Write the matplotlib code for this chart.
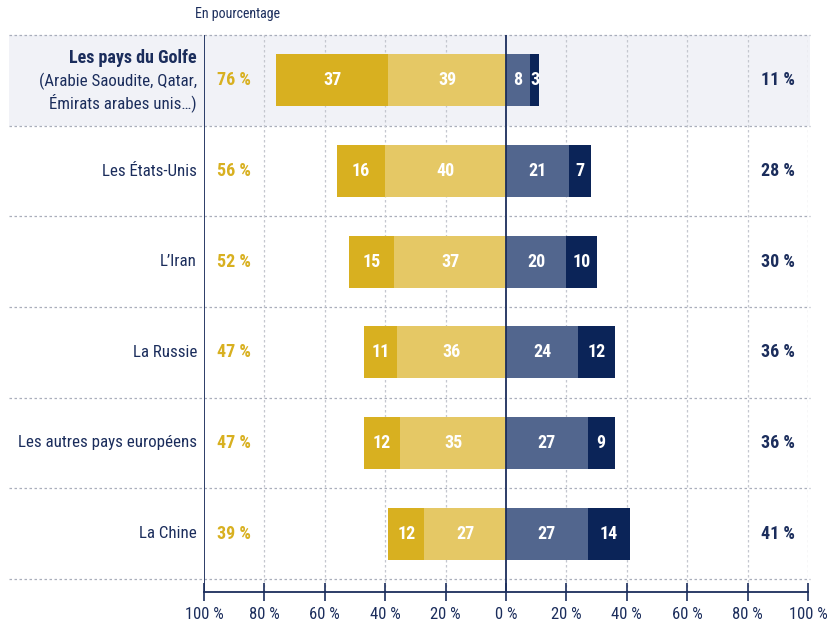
import matplotlib
matplotlib.use("Agg")
import matplotlib.pyplot as plt
from matplotlib.patches import Rectangle

plt.rcParams['font.family'] = ['Roboto Condensed', 'Open Sans Condensed', 'Liberation Sans Narrow',
                               'Roboto', 'DejaVu Sans']

# données (en pourcentage)
categories = ["Les pays du Golfe", "Les États-Unis", "L’Iran", "La Russie",
              "Les autres pays européens", "La Chine"]
tres_pos = [37, 16, 15, 11, 12, 12]      # jaune foncé
plutot_pos = [39, 40, 37, 36, 35, 27]    # jaune clair
plutot_neg = [8, 21, 20, 24, 27, 27]     # bleu moyen
tres_neg = [3, 7, 10, 12, 9, 14]         # bleu foncé
total_pos = [76, 56, 52, 47, 47, 39]
total_neg = [11, 28, 30, 36, 36, 41]
ticks = [-100, -80, -60, -40, -20, 0, 20, 40, 60, 80, 100]

c_dark_y = "#d8b020"
c_light_y = "#e5c865"
c_mid_b = "#52668e"
c_dark_b = "#0b2458"
navy = "#1b2d5c"
grid_c = "#a9aebb"

W, H = 835, 625
fig = plt.figure(figsize=(W / 100, H / 100), dpi=100)
x0, x1 = 204, 808
y_top, y_axis = 35, 592
ax = fig.add_axes([x0 / W, 1 - y_axis / H, (x1 - x0) / W, (y_axis - y_top) / H])

n = len(categories)
row_px = (579 - y_top) / n
ax.set_xlim(-100, 100 * (x1 - 507) / (507 - x0))
ax.set_ylim(n - 0.5 + 13 / row_px, -0.5)

px = (507 - x0) / 100.0   # pixels par %
left_edge = -100 - (x0 - 8) / px

# fond de la première ligne
ax.add_patch(Rectangle((left_edge, -0.5), 100 - left_edge + 0.5, 1, facecolor="#f1f2f7",
                       edgecolor="none", clip_on=False, zorder=0))

# lignes pointillées
for k in range(n + 1):
    ax.plot([left_edge, 100.5], [k - 0.5, k - 0.5], color=grid_c, lw=0.9,
            ls=(0, (2, 2)), clip_on=False, zorder=1)
for t in [-80, -60, -40, -20, 20, 40, 60, 80, 100]:
    ax.axvline(t, color="#c4c7cf", lw=0.9, ls=(0, (2, 2)), zorder=1)
ax.axvline(0, color=navy, lw=1.3, zorder=3)
ax.axvline(-100, color=navy, lw=1.3, zorder=3)

bh = 0.57
y = list(range(n))
neg_pp = [-v for v in plutot_pos]
left_tp = [-(a + b) for a, b in zip(tres_pos, plutot_pos)]
ax.barh(y, plutot_pos, left=neg_pp, height=bh, color=c_light_y, zorder=2)
ax.barh(y, tres_pos, left=left_tp, height=bh, color=c_dark_y, zorder=2)
ax.barh(y, plutot_neg, left=0, height=bh, color=c_mid_b, zorder=2)
ax.barh(y, tres_neg, left=plutot_neg, height=bh, color=c_dark_b, zorder=2)

lab = dict(color="white", fontsize=13, fontweight="bold", ha="center", va="center", zorder=4)
for i in range(n):
    ax.text(left_tp[i] + tres_pos[i] / 2, i, str(tres_pos[i]), **lab)
    ax.text(-plutot_pos[i] / 2, i, str(plutot_pos[i]), **lab)
    ax.text(plutot_neg[i] / 2, i, str(plutot_neg[i]), **lab)
    ax.text(plutot_neg[i] + tres_neg[i] / 2, i, str(tres_neg[i]), **lab)
    ax.text(-90, i, f"{total_pos[i]} %", color=c_dark_y, fontsize=13,
            fontweight="bold", ha="center", va="center")
    ax.text(90, i, f"{total_neg[i]} %", color=navy, fontsize=13,
            fontweight="bold", ha="center", va="center")

# libellés des catégories
lx = -100 - 7 / px
ax.text(lx, -0.245, categories[0], color=navy, fontsize=13, fontweight="bold",
        ha="right", va="center", clip_on=False)
ax.text(lx, 0.13, "(Arabie Saoudite, Qatar,\nÉmirats arabes unis…)", color=navy,
        fontsize=12.2, ha="right", va="center", linespacing=1.22, clip_on=False)
for i in range(1, n):
    ax.text(lx, i, categories[i], color=navy, fontsize=12.2, ha="right",
            va="center", clip_on=False)

fig.text(238 / W, 1 - 14 / H, "En pourcentage", color=navy, fontsize=10,
         ha="center", va="center")

# axe
for s in ["top", "left", "right"]:
    ax.spines[s].set_visible(False)
ax.spines["bottom"].set_color(navy)
ax.spines["bottom"].set_linewidth(1.3)
ax.spines["bottom"].set_bounds(-100, 100)
ax.set_yticks([])
ax.set_xticks(ticks)
ax.set_xticklabels([f"{abs(t)} %" for t in ticks])
ax.tick_params(axis="x", direction="inout", length=13, width=1.2, color=navy,
               labelcolor=navy, labelsize=12, pad=4)

fig.savefig("out.png", dpi=100)
